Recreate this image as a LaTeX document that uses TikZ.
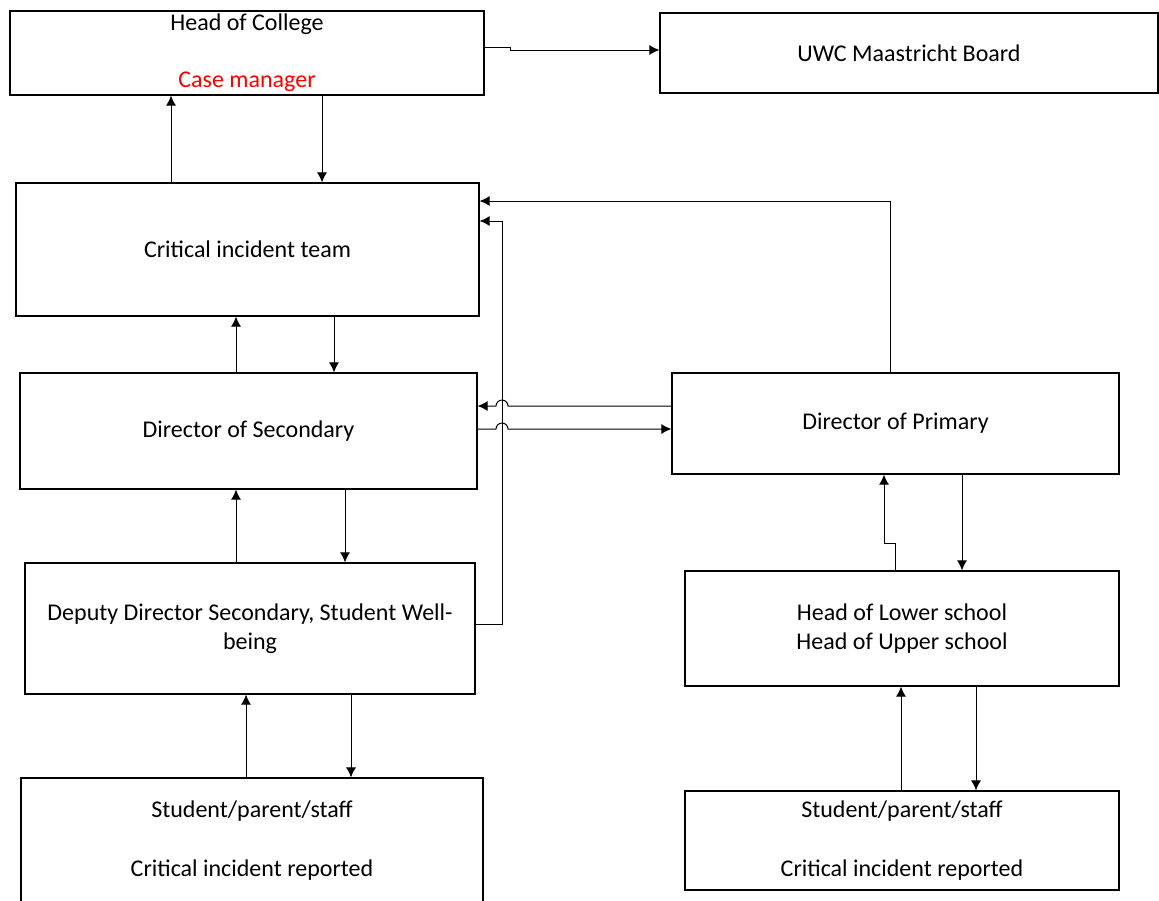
\documentclass[tikz,border=0pt]{standalone}
\usepackage{fontspec}
\setmainfont{Carlito}
\usetikzlibrary{arrows.meta}

\tikzset{
    box/.style={draw, rectangle, line width=0.6pt, inner sep=0pt, align=center,
        font=\fontsize{12pt}{14.5pt}\selectfont},
    link/.style={line width=0.5pt, -{Latex[length=5pt,width=5pt]}}
}

\begin{document}
\begin{tikzpicture}[x=0.5pt, y=-0.5pt]
    \useasboundingbox (0,0) rectangle (1159,900);
    % Add the boxes
        \node[box,
              minimum width=237pt,
              minimum height=42pt] (hoc) at (247,53)
              {Head of College\\[14pt]\textcolor{red}{Case manager}};
        \node[box,
              minimum width=249pt,
              minimum height=40pt] (uwc) at (909,53) {UWC Maastricht Board};
        \node[box,
              minimum width=231.5pt,
              minimum height=66.5pt] (cit) at (247.5,249.5) {Critical incident team};
        \node[box,
              minimum width=228.5pt,
              minimum height=58pt] (dos) at (248.5,431) {Director of Secondary};
        \node[box,
              minimum width=225pt,
              minimum height=65.5pt] (dep) at (250,628.5)
              {Deputy Director Secondary, Student Well-\\being};
        \node[box,
              minimum width=231pt,
              minimum height=62.5pt] (stl) at (252,840.5)
              {Student/parent/staff\\[15pt]Critical incident reported};
        \node[box,
              minimum width=223.5pt,
              minimum height=50.5pt] (dop) at (895.5,423.5) {Director of Primary};
        \node[box,
              minimum width=217pt,
              minimum height=57.5pt] (hls) at (902,628.5)
              {Head of Lower school\\Head of Upper school};
        \node[box,
              minimum width=217pt,
              minimum height=49.5pt] (str) at (902,840.5)
              {Student/parent/staff\\[15pt]Critical incident reported};

    % Secondary side
        \draw[link] (hoc.east |- 0,47) -- (510,47) -- (510,50) -- (uwc.west |- 0,50);
        \draw[link] (cit.north -| 171,0) -- (hoc.south -| 171,0);
        \draw[link] (hoc.south -| 322,0) -- (cit.north -| 322,0);
        \draw[link] (dos.north -| 236,0) -- (cit.south -| 236,0);
        \draw[link] (cit.south -| 334,0) -- (dos.north -| 334,0);
        \draw[link] (dep.north -| 236,0) -- (dos.south -| 236,0);
        \draw[link] (dos.south -| 345,0) -- (dep.north -| 345,0);
        \draw[link] (stl.north -| 246,0) -- (dep.south -| 246,0);
        \draw[link] (dep.south -| 351,0) -- (stl.north -| 351,0);
        \draw[link] (dep.east |- 0,624) -- (502,624) -- (502,221) -- (cit.east |- 0,221);

    % Primary side
        \draw[link] (dop.north -| 890,0) -- (890,201) -- (cit.east |- 0,201);
        \draw[link] (dop.west |- 0,406) -- (508,406) arc[start angle=0, end angle=180, radius=3pt]
            -- (dos.east |- 0,406);
        \draw[link] (dos.east |- 0,429) -- (496,429) arc[start angle=180, end angle=0, radius=3pt]
            -- (dop.west |- 0,429);
        \draw[link] (hls.north -| 895,0) -- (895,543) -- (884,543) -- (dop.south -| 884,0);
        \draw[link] (dop.south -| 962,0) -- (hls.north -| 962,0);
        \draw[link] (str.north -| 901,0) -- (hls.south -| 901,0);
        \draw[link] (hls.south -| 976,0) -- (str.north -| 976,0);
\end{tikzpicture}
\end{document}
